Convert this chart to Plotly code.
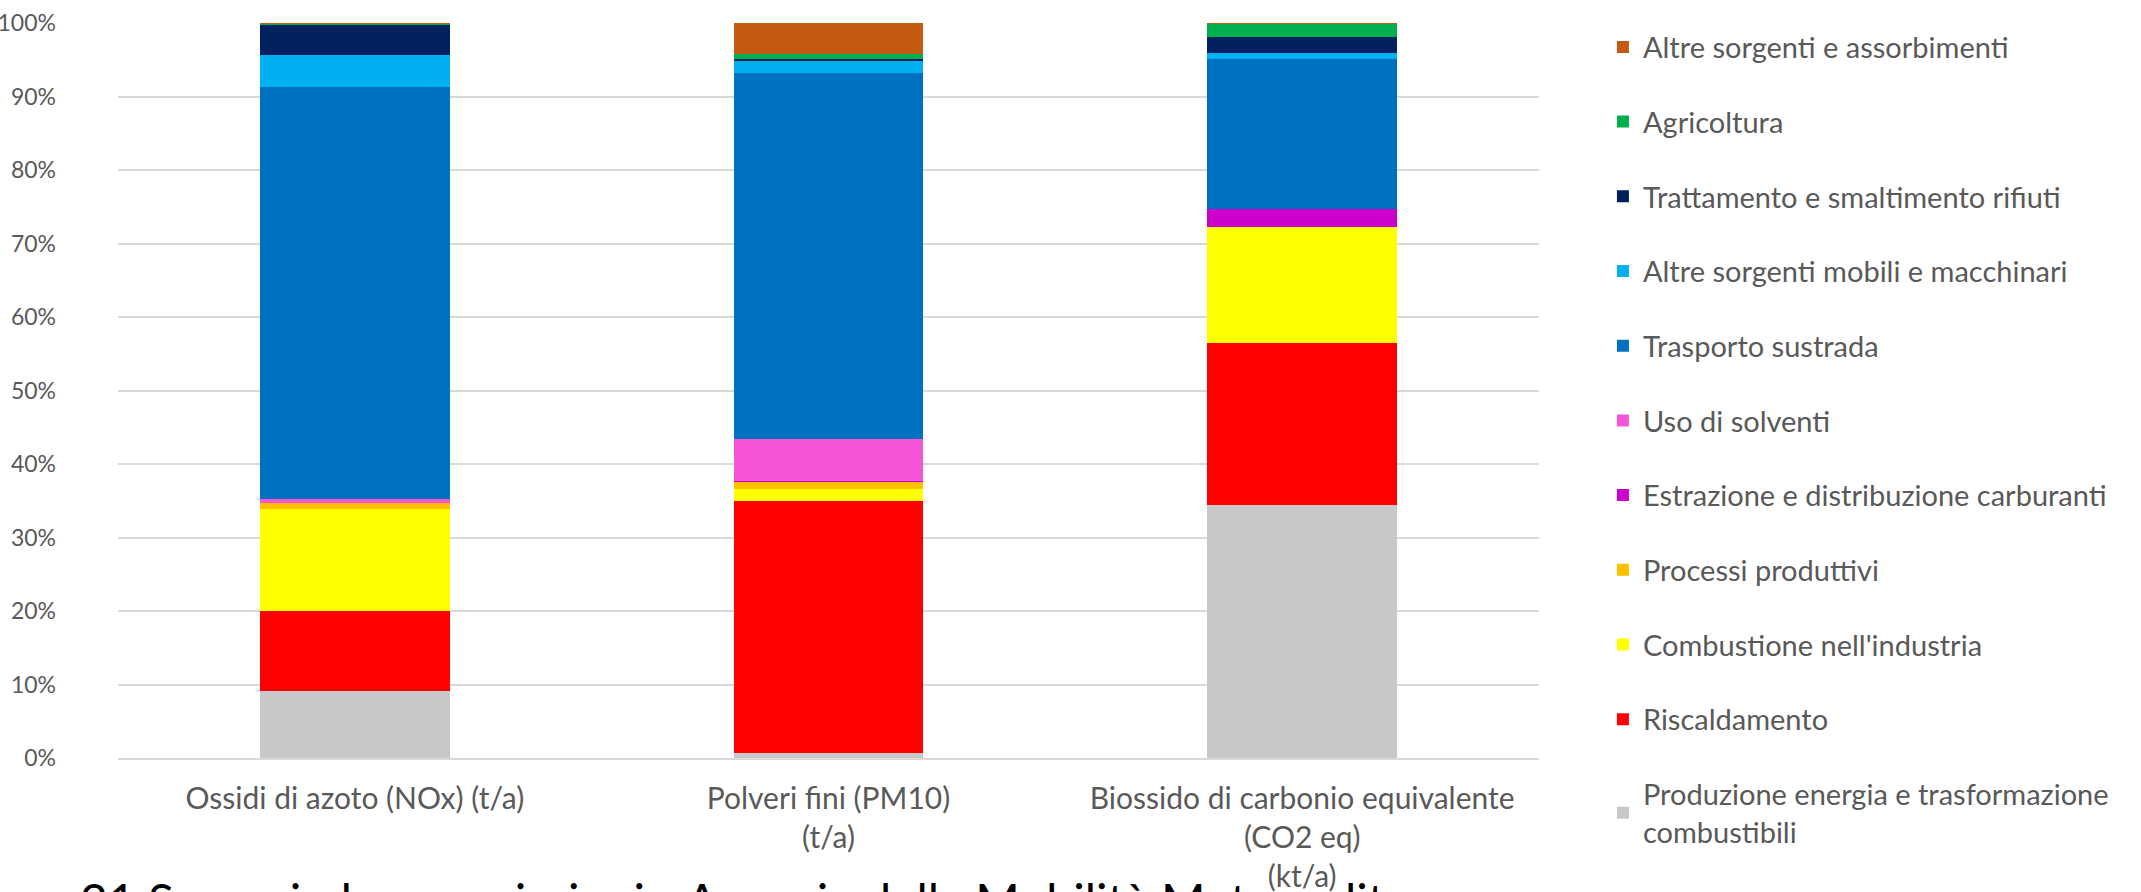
import plotly.graph_objects as go

# Pollutant categories (x axis)
categories = [
    "Ossidi di azoto (NOx) (t/a)",
    "Polveri fini (PM10)<br>(t/a)",
    "Biossido di carbonio equivalente<br>(CO2 eq)<br>(kt/a)",
]

# Share of each emission source, in percent, stacked bottom to top
produzione_energia = [9.15, 0.64, 34.47]
riscaldamento = [10.85, 34.28, 21.96]
combustione_industria = [13.9, 1.68, 15.81]
processi_produttivi = [0.8, 1.0, 0.0]
estrazione_carburanti = [0.05, 0.02, 2.4]
uso_solventi = [0.55, 5.8, 0.0]
trasporto_strada = [56.0, 49.8, 20.52]
altre_mobili = [4.4, 1.68, 0.77]
rifiuti = [4.1, 0.27, 2.12]
agricoltura = [0.1, 0.59, 1.85]
altre_sorgenti = [0.1, 4.25, 0.1]

series = [
    ("Produzione energia e trasformazione<br>combustibili", produzione_energia, "#C8C8C8"),
    ("Riscaldamento", riscaldamento, "#FF0000"),
    ("Combustione nell'industria", combustione_industria, "#FFFF00"),
    ("Processi produttivi", processi_produttivi, "#FFC000"),
    ("Estrazione e distribuzione carburanti", estrazione_carburanti, "#CC00CC"),
    ("Uso di solventi", uso_solventi, "#F755D8"),
    ("Trasporto sustrada", trasporto_strada, "#0070C0"),
    ("Altre sorgenti mobili e macchinari", altre_mobili, "#00B0F0"),
    ("Trattamento e smaltimento rifiuti", rifiuti, "#002060"),
    ("Agricoltura", agricoltura, "#00B050"),
    ("Altre sorgenti e assorbimenti", altre_sorgenti, "#C55A11"),
]

y_ticks = list(range(0, 101, 10))

TEXT = "#595959"
FONT = "Lato"

fig = go.Figure()
n = len(series)
for i, (name, vals, color) in enumerate(series):
    fig.add_trace(go.Bar(
        x=categories,
        y=vals,
        name=name,
        legendgroup=f"g{i}",
        legendrank=n - i,  # top of the stack listed first
        marker=dict(color=color, line=dict(width=0)),
    ))

fig.update_layout(
    width=2141,
    height=892,
    barmode="stack",
    bargap=0.6,
    plot_bgcolor="white",
    paper_bgcolor="white",
    margin=dict(l=118, r=602, t=23, b=134, autoexpand=False),
    font=dict(family=FONT, size=24, color=TEXT),
    legend=dict(
        x=1.045, xanchor="left",
        y=1.002, yanchor="top",
        traceorder="grouped",
        tracegroupgap=34,
        maxheight=880,
        font=dict(family=FONT, size=29, color=TEXT),
        itemwidth=30,
    ),
    xaxis=dict(
        automargin=False,
        showgrid=False,
        showline=True,
        linecolor="#D9D9D9",
        linewidth=2,
        ticks="",
        tickfont=dict(family=FONT, size=30, color=TEXT),
        ticklabelstandoff=13,
    ),
    yaxis=dict(
        automargin=False,
        range=[0, 100],
        tickvals=y_ticks,
        ticktext=[f"{v}%" for v in y_ticks],
        showgrid=True,
        gridcolor="#D9D9D9",
        gridwidth=2,
        zeroline=False,
        showline=False,
        ticks="",
        tickfont=dict(family=FONT, size=23, color=TEXT),
        ticklabelstandoff=61,
    ),
    annotations=[
        dict(
            text="21 Scenario base emissioni - Agenzia della Mobilità Metropolitana",
            xref="paper", yref="paper",
            x=(78 - 118) / 1421, y=(758 - 900) / 735,
            xanchor="left", yanchor="middle",
            showarrow=False,
            font=dict(family=FONT, size=48, color="#000000"),
        )
    ],
)

fig.write_html("out.html")
